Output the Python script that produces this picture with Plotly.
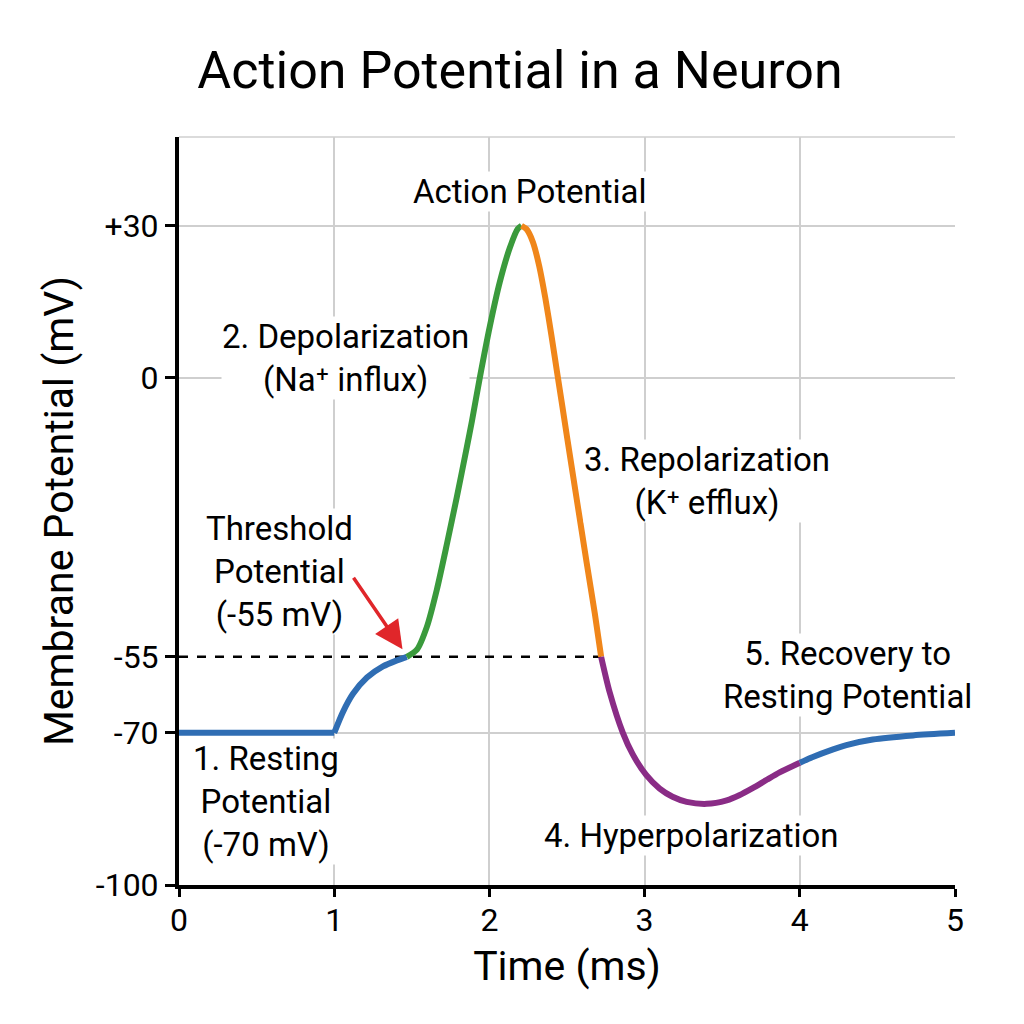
import plotly.graph_objects as go

# membrane potential trace, split by phase (time in ms, potential in mV)
flat_t = [0.0, 1.0]
flat_v = [-70, -70]

rise_t = [1.0, 1.056, 1.121, 1.211, 1.314, 1.404, 1.468]
rise_v = [-70, -65.9, -62.3, -59.1, -56.9, -55.7, -55]

depol_t = [1.468, 1.533, 1.597, 1.661, 1.726, 1.790, 1.855, 1.887, 1.938,
           2.003, 2.067, 2.131, 2.183, 2.207]
depol_v = [-55, -53.6, -49.1, -41.8, -32.8, -23.5, -13.6, -8.6, 0.0,
           10.2, 18.9, 25.6, 29.4, 30]

repol_t = [2.207, 2.240, 2.280, 2.320, 2.360, 2.400, 2.434, 2.466, 2.498, 2.563,
           2.627, 2.679, 2.72]
repol_v = [30, 29.3, 26.8, 22.2, 15.8, 8.3, 1.5, -4.8, -11.2, -24.0,
           -36.5, -46.4, -55]

hyper_t = [2.72, 2.775, 2.86, 2.923, 3.01, 3.097, 3.18, 3.271, 3.40,
           3.529, 3.61, 3.696, 3.79, 3.87, 4.00]
hyper_v = [-55, -62.0, -70.0, -74.2, -78.3, -81.0, -82.6, -83.6, -84.0,
           -83.3, -82.3, -80.9, -79.2, -77.8, -75.9]

recov_t = [4.00, 4.08, 4.21, 4.30, 4.47, 4.73, 5.00]
recov_v = [-75.9, -74.8, -73.3, -72.4, -71.3, -70.5, -70]

threshold_t = [0, 2.72]
threshold_v = [-55, -55]

y_ticks = [-100, -70, -55, 0, 30]
y_labels = ["-100", "-70", "-55", "0", "+30"]
y_grid = [-70, 0, 30]
x_ticks = [0, 1, 2, 3, 4, 5]

BLUE = "#2f6db3"
GREEN = "#3a9a3c"
ORANGE = "#f0861a"
PURPLE = "#8a2c86"
RED = "#e0262a"
GRID = "#cfcfcf"
FONT = "Roboto"

fig = go.Figure()

# threshold dashed line
fig.add_trace(go.Scatter(x=threshold_t, y=threshold_v, mode="lines",
                         line=dict(color="black", width=2.5, dash="dash")))

segments = [
    (flat_t, flat_v, BLUE),
    (rise_t, rise_v, BLUE),
    (depol_t, depol_v, GREEN),
    (repol_t, repol_v, ORANGE),
    (hyper_t, hyper_v, PURPLE),
    (recov_t, recov_v, BLUE),
]
for t, v, c in segments:
    fig.add_trace(go.Scatter(x=t, y=v, mode="lines",
                             line=dict(color=c, width=6, shape="spline", smoothing=0.7)))

# phase labels
labels = [
    ("Action Potential", 2.26, 36.7),
    ("2. Depolarization<br>(Na⁺ influx)", 1.07, 3.9),
    ("3. Repolarization<br>(K⁺ efflux)", 3.40, -20.3),
    ("Threshold<br>Potential<br>(-55 mV)", 0.65, -38.1),
    ("5. Recovery to<br>Resting Potential", 4.31, -58.6),
    ("1. Resting<br>Potential<br>(-70 mV)", 0.56, -83.6),
    ("4. Hyperpolarization", 3.30, -90.3),
]
for text, x, y in labels:
    fig.add_annotation(x=x, y=y, text=text, showarrow=False,
                       font=dict(family=FONT, size=33, color="black"),
                       bgcolor="white", borderpad=0, align="center")

# arrow pointing at threshold
fig.add_annotation(x=1.44, y=-53.5, ax=-50, ay=-73, text="",
                   showarrow=True, arrowhead=2, arrowsize=1.6,
                   arrowwidth=3.5, arrowcolor=RED)

# faint top border
fig.add_shape(type="line", xref="paper", yref="paper", x0=0, x1=1, y0=1, y1=1,
              line=dict(color=GRID, width=1.5))

# page body adds an 8px offset, margins compensate for it
fig.update_layout(
    width=1024, height=1024,
    paper_bgcolor="white", plot_bgcolor="white",
    showlegend=False,
    margin=dict(l=171, r=77, t=129, b=147),
    title=dict(text="Action Potential in a Neuron", x=0.5, xanchor="center",
               y=1 - 62 / 1024, yanchor="middle", yref="container",
               font=dict(family=FONT, size=52, color="black")),
    font=dict(family=FONT, color="black"),
)

fig.update_xaxes(
    range=[0, 5], tickvals=x_ticks, showgrid=True, gridcolor=GRID, gridwidth=1.5,
    showline=True, linecolor="black", linewidth=4,
    ticks="outside", ticklen=8, tickwidth=3, tickcolor="black",
    tickfont=dict(family=FONT, size=32, color="black"), ticklabelstandoff=-4,
    zeroline=False,
    title=dict(text="Time (ms)", font=dict(family=FONT, size=41, color="black"), standoff=14),
)

fig.update_yaxes(
    range=[-100, 47.5], tickvals=y_ticks, ticktext=y_labels, showgrid=False,
    minor=dict(tickvals=y_grid, showgrid=True, gridcolor=GRID, gridwidth=1.5, ticks=""),
    showline=True, linecolor="black", linewidth=4,
    ticks="outside", ticklen=10, tickwidth=3, tickcolor="black",
    tickfont=dict(family=FONT, size=32, color="black"),
    zeroline=False,
    title=dict(text="Membrane Potential (mV)", font=dict(family=FONT, size=41, color="black"), standoff=10),
)

fig.write_html("out.html")
